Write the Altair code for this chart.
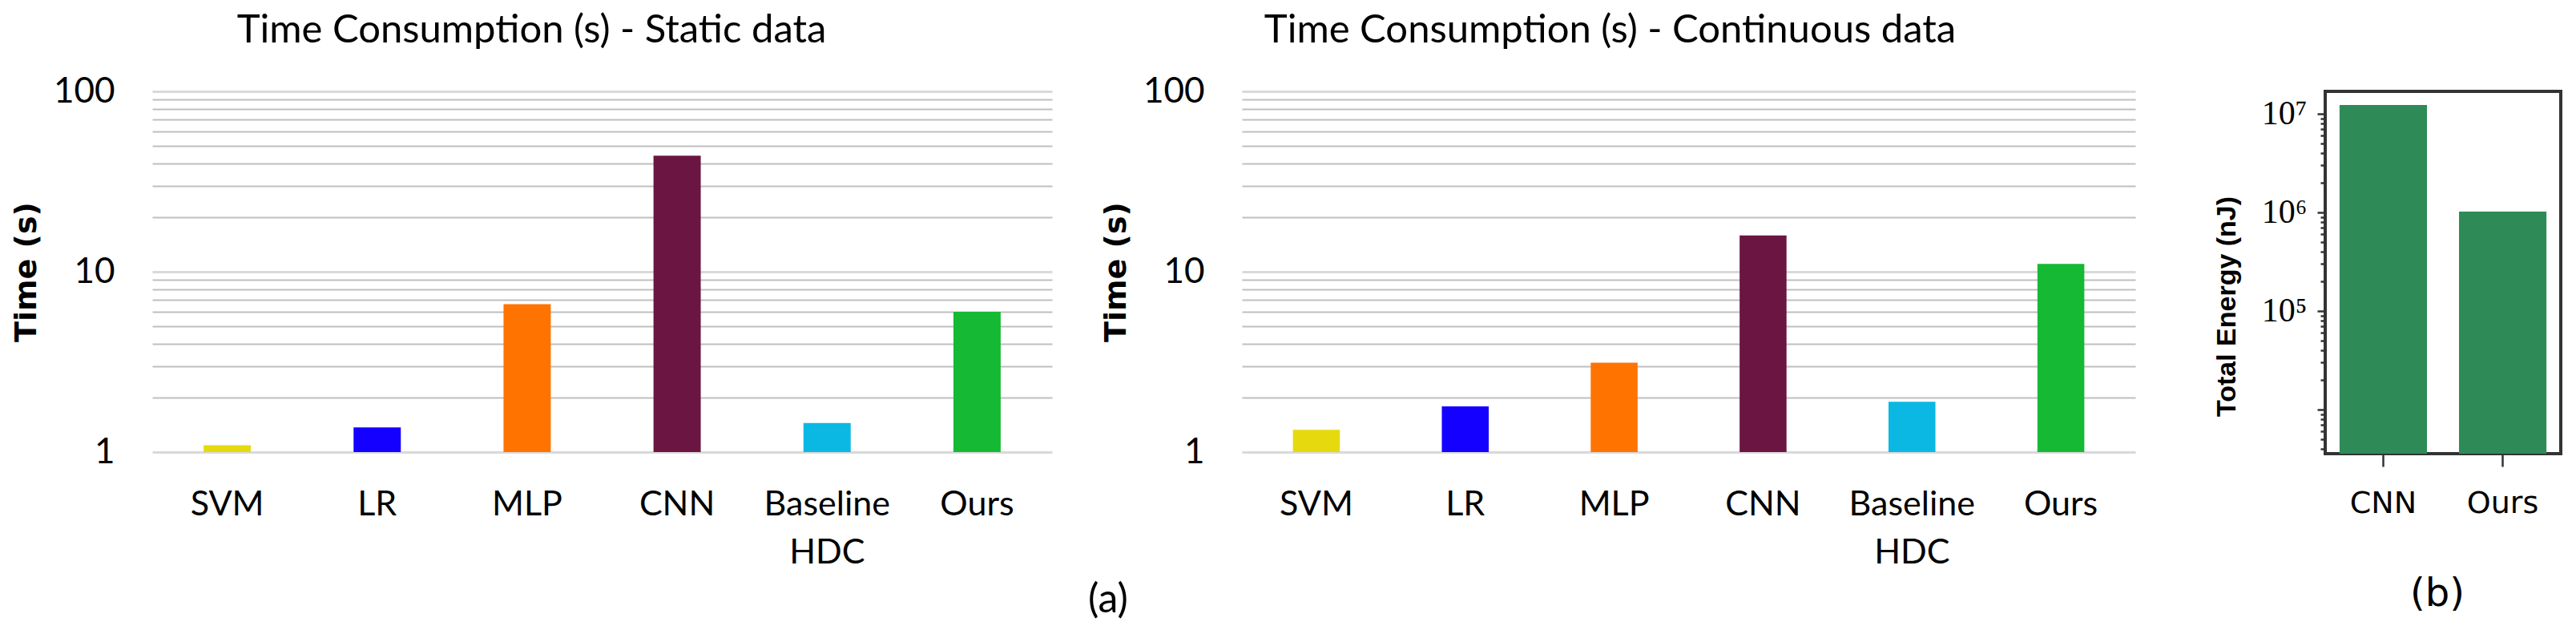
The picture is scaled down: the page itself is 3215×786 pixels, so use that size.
import altair as alt
import pandas as pd

# ---------------- data ----------------
models = ["SVM", "LR", "MLP", "CNN", "Baseline HDC", "Ours"]
colors = ["#e6da0f", "#1400ff", "#ff7300", "#6b1542", "#0bb8e3", "#15b934"]
static_time = [1.09, 1.37, 6.6, 44.0, 1.45, 6.0]
continuous_time = [1.33, 1.79, 3.13, 15.9, 1.90, 11.05]
time_axis_min = 1
time_axis_max = 100

energy_models = ["CNN", "Ours"]
energy_nj = [1.23e7, 1.02e6]
energy_axis_min = 3571
energy_axis_max = 1.689e7

time_ticks = [1, 2, 3, 4, 5, 6, 7, 8, 9, 10, 20, 30, 40, 50, 60, 70, 80, 90, 100]
energy_ticks = [4e3, 5e3, 6e3, 7e3, 8e3, 9e3,
                1e4, 2e4, 3e4, 4e4, 5e4, 6e4, 7e4, 8e4, 9e4,
                1e5, 2e5, 3e5, 4e5, 5e5, 6e5, 7e5, 8e5, 9e5,
                1e6, 2e6, 3e6, 4e6, 5e6, 6e6, 7e6, 8e6, 9e6, 1e7]

SANS = "Lato"

df_static = pd.DataFrame({"model": models, "time": static_time, "color": colors,
                          "base": [time_axis_min] * len(models)})
df_cont = pd.DataFrame({"model": models, "time": continuous_time, "color": colors,
                        "base": [time_axis_min] * len(models)})
df_energy = pd.DataFrame({"model": energy_models, "energy": energy_nj,
                          "base": [energy_axis_min] * len(energy_models)})

major_test = "datum.value == 1 || datum.value == 10 || datum.value == 100"


def time_panel(df, title, width, dx):
    x = alt.X(
        "model:N",
        sort=models,
        title=None,
        scale=alt.Scale(paddingInner=0.685, paddingOuter=0.3425),
        axis=alt.Axis(
            domain=False,
            ticks=False,
            grid=False,
            labelAngle=0,
            labelFont=SANS,
            labelFontSize=43,
            labelColor="#000000",
            labelPadding=44,
            labelLineHeight=60,
            labelExpr="split(datum.label, ' ')",
        ),
    )
    y = alt.Y(
        "time:Q",
        title="Time (s)",
        scale=alt.Scale(type="log", domain=[time_axis_min, time_axis_max], nice=False),
        axis=alt.Axis(
            values=time_ticks,
            domain=False,
            ticks=False,
            labelExpr=major_test + " ? format(datum.value, 'd') : ''",
            labelFont=SANS,
            labelFontSize=44,
            labelColor="#000000",
            labelPadding=47,
            gridColor={"condition": {"test": major_test, "value": "#d9d9d9"}, "value": "#bfbfbf"},
            gridWidth={"condition": {"test": major_test, "value": 3.2}, "value": 2.2},
            gridOpacity=1,
            titleFont="DejaVu Sans",
            titleFontWeight="bold",
            titleFontSize=38,
            titleColor="#000000",
            titlePadding=14,
        ),
    )
    bars = alt.Chart(df).mark_bar().encode(
        x=x,
        y=y,
        y2="base:Q",
        color=alt.Color("color:N", scale=None, legend=None),
    )
    return bars.properties(
        width=width,
        height=450,
        title=alt.TitleParams(
            text=title,
            font=SANS,
            fontSize=49,
            fontWeight="normal",
            color="#000000",
            anchor="middle",
            frame="group",
            baseline="alphabetic",
            offset=-10,
            dx=dx,
        ),
    )


panel1 = time_panel(df_static, "Time Consumption (s) - Static data", 1123, -88)
cap_a = alt.Chart(pd.DataFrame({"caption": ["(a)"]})).mark_text(
    font=SANS, fontSize=50, align="left", baseline="alphabetic", color="#000000"
).encode(text="caption:N", x=alt.value(1168), y=alt.value(650))
panel1 = alt.layer(panel1, cap_a)

panel2 = time_panel(df_cont, "Time Consumption (s) - Continuous data", 1115, -98)

energy_labels = (
    "datum.value == 100000 ? '10\u2075' : datum.value == 1000000 ? '10\u2076' : "
    "datum.value == 10000000 ? '10\u2077' : ''"
)
energy_major = "datum.value == 10000 || datum.value == 100000 || datum.value == 1000000 || datum.value == 10000000"

bars3 = alt.Chart(df_energy).mark_bar(color="#2e8b57").encode(
    x=alt.X(
        "model:N",
        sort=energy_models,
        title=None,
        scale=alt.Scale(paddingInner=0.268, paddingOuter=0.12),
        axis=alt.Axis(
            domain=False,
            ticks=True,
            tickSize=16,
            tickWidth=2.5,
            tickColor="#333333",
            grid=False,
            labelAngle=0,
            labelFont="DejaVu Sans",
            labelFontSize=38,
            labelColor="#000000",
            labelPadding=27,
        ),
    ),
    y=alt.Y(
        "energy:Q",
        title="Total Energy (nJ)",
        scale=alt.Scale(type="log", domain=[energy_axis_min, energy_axis_max], nice=False),
        axis=alt.Axis(
            values=energy_ticks,
            domain=False,
            grid=False,
            ticks=True,
            tickColor="#333333",
            tickWidth=2.5,
            tickSize={"condition": {"test": energy_major, "value": 10}, "value": 6},
            labelExpr=energy_labels,
            labelFont="Liberation Serif",
            labelFontSize=42,
            labelColor="#000000",
            labelPadding=13,
            titleFont="Liberation Sans",
            titleFontWeight="bold",
            titleFontSize=34,
            titleColor="#000000",
            titlePadding=26,
            titleAlign="center",
            titleY=268,
        ),
    ),
    y2="base:Q",
)
cap_b = alt.Chart(pd.DataFrame({"caption": ["(b)"]})).mark_text(
    font="DejaVu Sans", fontSize=48, align="left", baseline="alphabetic", color="#000000"
).encode(text="caption:N", x=alt.value(106), y=alt.value(642))
panel3 = alt.layer(bars3, cap_b).properties(
    width=294,
    height=452,
    view=alt.ViewBackground(stroke="#333333", strokeWidth=4),
)

chart = (
    alt.hconcat(panel1, panel2, panel3, spacing=237, bounds="flush")
    .properties(padding={"left": 6, "top": 6, "right": 5, "bottom": 0}, background="#ffffff")
    .configure_view(strokeWidth=0)
)

chart.save("out.html", embed_options={"renderer": "svg", "actions": False})
